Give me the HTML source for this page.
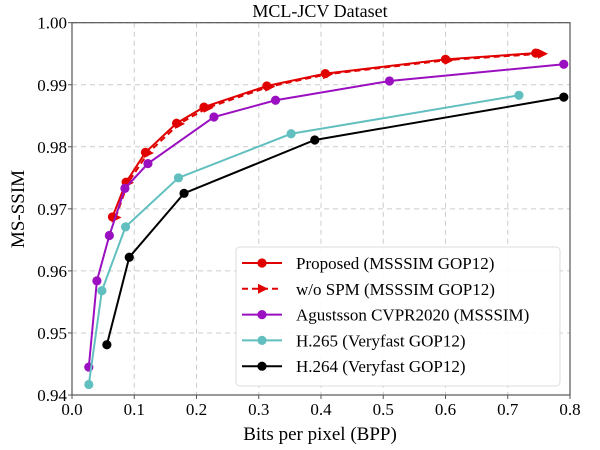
<!DOCTYPE html>
<html><head><meta charset="utf-8"><style>
body{margin:0;background:#fff}
svg{display:block;font-family:"Liberation Serif",serif}
</style></head><body>
<svg id="chart" width="600" height="450" xmlns="http://www.w3.org/2000/svg">
<g id="grid"></g>
<g id="series"></g>
<g id="axes"></g>
<text x="320" y="17" font-size="18" text-anchor="middle">MCL-JCV Dataset</text>
<text x="320" y="440" font-size="19" text-anchor="middle">Bits per pixel (BPP)</text>
<text transform="translate(24,209) rotate(-90)" font-size="19" text-anchor="middle">MS-SSIM</text>
<g id="legend"></g>
</svg>
<script>
const xTicks=[0.0,0.1,0.2,0.3,0.4,0.5,0.6,0.7,0.8];
const yTicks=[0.94,0.95,0.96,0.97,0.98,0.99,1.00];
const seriesNames=["Proposed (MSSSIM GOP12)","w/o SPM (MSSSIM GOP12)","Agustsson CVPR2020 (MSSSIM)","H.265 (Veryfast GOP12)","H.264 (Veryfast GOP12)"];
const proposedX=[0.065,0.087,0.118,0.168,0.212,0.313,0.407,0.600,0.745];
const proposedY=[0.9687,0.9743,0.9791,0.9838,0.9864,0.9898,0.9918,0.9941,0.9951];
const wospmX=[0.070,0.090,0.122,0.172,0.218,0.317,0.410,0.605,0.755];
const wospmY=[0.9686,0.9742,0.9790,0.9837,0.9863,0.9897,0.9917,0.9940,0.9950];
const agX=[0.027,0.040,0.060,0.085,0.122,0.228,0.327,0.510,0.790];
const agY=[0.9445,0.9584,0.9657,0.9733,0.9773,0.9848,0.9875,0.9906,0.9933];
const h265X=[0.027,0.048,0.086,0.171,0.352,0.718];
const h265Y=[0.9417,0.9568,0.9671,0.9750,0.9821,0.9883];
const h264X=[0.056,0.092,0.180,0.390,0.790];
const h264Y=[0.9481,0.9622,0.9725,0.9811,0.9880];

const L=72,R=570,T=22.7,B=395;
const sx=v=>L+(v-0)/(0.8)*(R-L);
const sy=v=>B-(v-0.94)/(0.06)*(B-T);
const NS="http://www.w3.org/2000/svg";
function mk(tag,attrs,parent){const e=document.createElementNS(NS,tag);for(const k in attrs)e.setAttribute(k,attrs[k]);parent.appendChild(e);return e;}
const grid=document.getElementById('grid'),axes=document.getElementById('axes'),ser=document.getElementById('series'),leg=document.getElementById('legend');

xTicks.forEach(t=>{
  const x=sx(t);
  const g=mk('line',{x1:x,x2:x,y1:T,y2:B,stroke:'#ccc','stroke-dasharray':'5,4','stroke-width':1},grid);
  
  
  const tk=mk('line',{x1:x,x2:x,y1:B,y2:B+4,stroke:'#555','stroke-width':1},axes);
  
  
  const lb=mk('text',{x:x,y:B+20,'font-size':17,'text-anchor':'middle'},axes);
  lb.textContent=t.toFixed(1);
  
  
});
yTicks.forEach(t=>{
  const y=sy(t);
  const g=mk('line',{x1:L,x2:R,y1:y,y2:y,stroke:'#ccc','stroke-dasharray':'5,4','stroke-width':1},grid);
  
  
  const tk=mk('line',{x1:L-4,x2:L,y1:y,y2:y,stroke:'#555','stroke-width':1},axes);
  
  
  const lb=mk('text',{x:L-5,y:y+6,'font-size':17,'text-anchor':'end'},axes);
  lb.textContent=t.toFixed(2);
  
  
});
const frame=mk('rect',{x:L,y:T,width:R-L,height:B-T,fill:'none',stroke:'#555','stroke-width':1.2},axes);



const defs=[
 {xs:proposedX,ys:proposedY,c:'#e00000',dash:null,m:'circle'},
 {xs:wospmX,ys:wospmY,c:'#e00000',dash:'6,4',m:'tri'},
 {xs:agX,ys:agY,c:'#9a0fc0',dash:null,m:'circle'},
 {xs:h265X,ys:h265Y,c:'#62bfbf',dash:null,m:'circle'},
 {xs:h264X,ys:h264Y,c:'#000',dash:null,m:'circle'}
];
function marker(type,x,y,c,parent){
  let e;
  if(type==='circle') e=mk('circle',{cx:x,cy:y,r:4.6,fill:c},parent);
  else e=mk('polygon',{points:`${x+6},${y} ${x-4},${y-5} ${x-4},${y+5}`,fill:c},parent);
  return e;
}
defs.forEach((d,i)=>{
  const g=mk('g',{},ser);
  
  
  const pts=d.xs.map((v,j)=>sx(v)+','+sy(d.ys[j])).join(' ');
  const pl=mk('polyline',{points:pts,fill:'none',stroke:d.c,'stroke-width':2},g);
  if(d.dash)pl.setAttribute('stroke-dasharray',d.dash);
  
  
  d.xs.forEach((v,j)=>{
    const m=marker(d.m,sx(v),sy(d.ys[j]),d.c,g);
    
    
  });
});
const box=mk('rect',{x:236,y:247,width:324,height:139,rx:4,fill:'#fff','fill-opacity':0.9,stroke:'#ddd'},leg);


defs.forEach((d,i)=>{
  const y=263+i*25.8;
  const g=mk('g',{},leg);
  
  
  const ln=mk('line',{x1:242,x2:282,y1:y,y2:y,stroke:d.c,'stroke-width':2},g);
  if(d.dash)ln.setAttribute('stroke-dasharray',d.dash);
  marker(d.m,262,y,d.c,g);
  const t=mk('text',{x:296,y:y+6,'font-size':17},g);
  t.textContent=seriesNames[i];
});
</script>
</body></html>
